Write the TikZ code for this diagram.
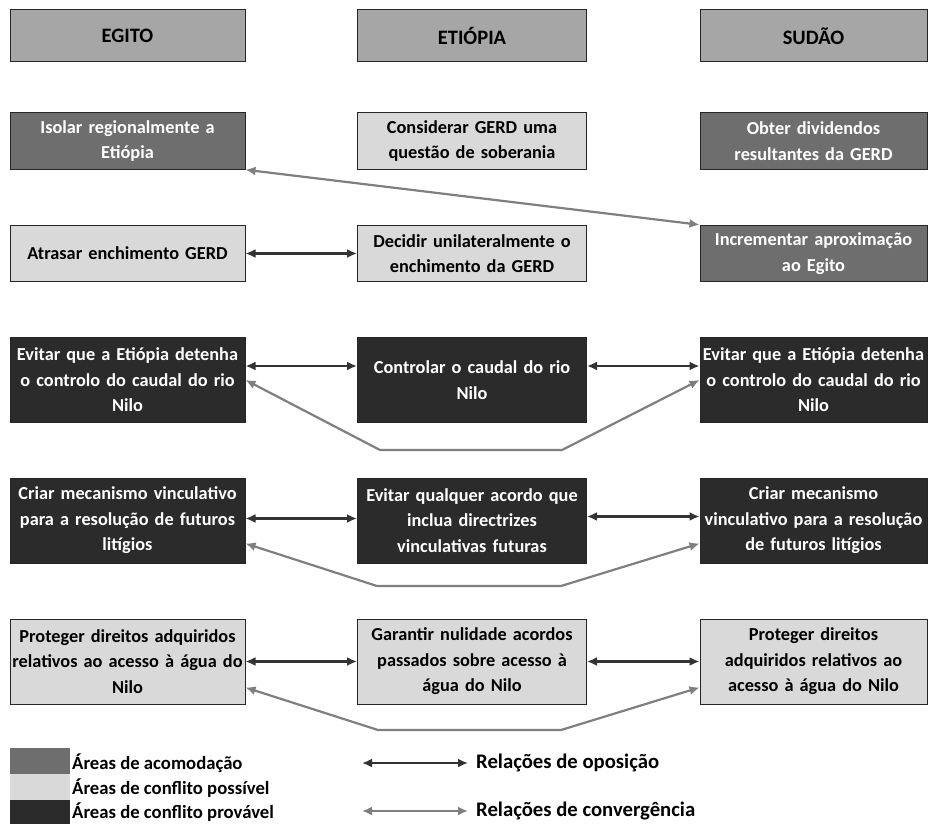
\documentclass[tikz,border=0pt]{standalone}
\usepackage{fontspec}
\setmainfont{Carlito}
\usetikzlibrary{arrows.meta}

\definecolor{hdgray}{HTML}{A6A6A6}
\definecolor{accgray}{HTML}{6E6E6E}
\definecolor{posgray}{HTML}{D9D9D9}
\definecolor{provgray}{HTML}{2B2B2B}
\definecolor{oppline}{HTML}{333333}
\definecolor{convline}{HTML}{7F7F7F}

\begin{document}
\begin{tikzpicture}[x=1pt,y=-1pt,>={Latex[length=10pt,width=9pt]},
    box/.style={draw=black!85,line width=1pt,align=center,inner sep=0pt,
      font=\bfseries\fontsize{18.3}{25.6}\selectfont},
    hd/.style={box,fill=hdgray,minimum height=52pt,font=\bfseries\fontsize{20.5}{25.6}\selectfont},
    accbox/.style={box,fill=accgray,text=white},
    posbox/.style={box,fill=posgray},
    provbox/.style={box,fill=provgray,text=white},
    wa/.style={text width=235pt},
    wb/.style={text width=229pt},
    wc/.style={text width=227pt},
    low/.style={minimum height=56.5pt},
    tall/.style={minimum height=85pt},
    opp/.style={<->,line width=2.2pt,draw=oppline},
    conv/.style={<->,line width=2.2pt,draw=convline},
    legtext/.style={anchor=west,inner sep=0pt,font=\bfseries\fontsize{18.7}{20}\selectfont},
    legrel/.style={legtext,font=\bfseries\fontsize{20.7}{22}\selectfont},
    swatch/.style={minimum width=60pt,inner sep=0pt}]
  \useasboundingbox (0,0) rectangle (928,824);

  % heads
  \node[hd,wa] (egito) at (127.5,36) {EGITO};
  \node[hd,wb] (etiopia) at (472,36) {ETIÓPIA};
  \node[hd,wc] (sudao) at (813.5,36) {SUDÃO};

  \node[accbox,wa,low] (isolar) at (127.5,141) {Isolar regionalmente a\\Etiópia};
  \node[posbox,wb,low] (soberania) at (472,141) {Considerar GERD uma\\questão de soberania};
  \node[accbox,wc,low] (dividendos) at (813.5,141) {Obter dividendos\\resultantes da GERD};

  \node[posbox,wa,low] (atrasar) at (127.5,253.5) {Atrasar enchimento GERD};
  \node[posbox,wb,low] (decidir) at (472,253.5) {Decidir unilateralmente o\\enchimento da GERD};
  \node[accbox,wc,low] (aproximar) at (813.5,253.5) {Incrementar aproximação\\ao Egito};

  \node[provbox,wa,tall] (caudalEg) at (127.5,380) {Evitar que a Etiópia detenha\\o controlo do caudal do rio\\Nilo};
  \node[provbox,wb,tall] (caudalEt) at (472,380) {Controlar o caudal do rio\\Nilo};
  \node[provbox,wc,tall] (caudalSu) at (813.5,380) {Evitar que a Etiópia detenha\\o controlo do caudal do rio\\Nilo};

  \node[provbox,wa,tall] (litigEg) at (127.5,520.5) {Criar mecanismo vinculativo\\para a resolução de futuros\\litígios};
  \node[provbox,wb,tall] (litigEt) at (472,520.5) {Evitar qualquer acordo que\\inclua directrizes\\vinculativas futuras};
  \node[provbox,wc,tall] (litigSu) at (813.5,520.5) {Criar mecanismo\\vinculativo para a resolução\\de futuros litígios};

  \node[posbox,wa,tall] (aguaEg) at (127.5,661.5) {Proteger direitos adquiridos\\relativos ao acesso à água do\\Nilo};
  \node[posbox,wb,tall] (aguaEt) at (472,661.5) {Garantir nulidade acordos\\passados sobre acesso à\\água do Nilo};
  \node[posbox,wc,tall] (aguaSu) at (813.5,661.5) {Proteger direitos\\adquiridos relativos ao\\acesso à água do Nilo};

  % bends of the convergence lines
  \coordinate (k4a) at (380,450);
  \coordinate (k4b) at (562,450);
  \coordinate (k5a) at (377,586);
  \coordinate (k5b) at (561,586);
  \coordinate (k6a) at (378,730);
  \coordinate (k6b) at (561,730);

  \draw[conv] (isolar.south east) -- (aproximar.north west);
  \draw[opp] (atrasar) -- (decidir);

  \draw[opp] ([yshift=14pt]caudalEg.east) -- ([yshift=14pt]caudalEt.west);
  \draw[opp] ([yshift=14pt]caudalEt.east) -- ([yshift=14pt]caudalSu.west);
  \draw[conv] (caudalEg.east) -- (k4a) -- (k4b) -- (caudalSu.west);

  \draw[opp] ([yshift=2pt]litigEg.east) -- ([yshift=2pt]litigEt.west);
  \draw[opp] ([yshift=4pt]litigEt.east) -- ([yshift=4pt]litigSu.west);
  \draw[conv] ([yshift=-23pt]litigEg.east) -- (k5a) -- (k5b) -- ([yshift=-23pt]litigSu.west);

  \draw[opp] (aguaEg) -- (aguaEt);
  \draw[opp] (aguaEt) -- (aguaSu);
  \draw[conv] ([yshift=-26pt]aguaEg.east) -- (k6a) -- (k6b) -- ([yshift=-26pt]aguaSu.west);

  % legend
  \node[swatch,fill=accgray,minimum height=26pt] (swAcc) at (39.5,761) {};
  \node[swatch,fill=posgray,minimum height=26pt] (swPos) at (39.5,787) {};
  \node[swatch,fill=provgray,minimum height=24pt] (swProv) at (39.5,812) {};
  \node[legtext] (lgAcc) at (72,763) {Áreas de acomodação};
  \node[legtext] (lgPos) at (72,788) {Áreas de conflito possível};
  \node[legtext] (lgProv) at (72,812) {Áreas de conflito provável};

  \coordinate (oppA) at (362,763);
  \coordinate (oppB) at (468,763);
  \coordinate (convA) at (362,811);
  \coordinate (convB) at (468,811);
  \draw[opp] (oppA) -- (oppB);
  \draw[conv] (convA) -- (convB);
  \node[legrel] (lgOpp) at (476,763) {Relações de oposição};
  \node[legrel] (lgConv) at (476,811) {Relações de convergência};
\end{tikzpicture}
\end{document}
